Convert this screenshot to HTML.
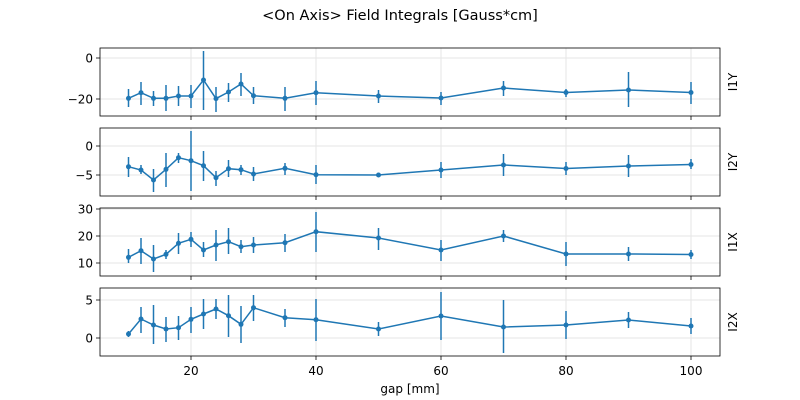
<!DOCTYPE html>
<html><head><meta charset="utf-8"><style>body{margin:0;background:#fff}svg{display:block}text{font-family:"DejaVu Sans","Liberation Sans",sans-serif;fill:#000}</style></head>
<body><svg id="s" width="800" height="400" xmlns="http://www.w3.org/2000/svg"></svg>
<script>
const s=document.getElementById('s');let h='';
h+='<text x="400" y="20" font-size="14.5" text-anchor="middle">&lt;On Axis&gt; Field Integrals [Gauss*cm]</text>';
const xs=[128.5,141,153.5,166,178.5,191,203.5,216,228.5,241,253.5,285,316,378.5,441,503.5,566,628.5,691];
const xt=[[20,191],[40,316],[60,441],[80,566],[100,691]];
const P=[
{y0:48,y1:116,lab:'I1Y',yt:[['0',58],['\u221220',99]],d:[[98.3,89,107],[92.7,82,105],[98.3,91,106],[98.3,85,111],[96,86,106],[96,85,108],[80,51,110],[98.6,87,112],[92,83,102],[84,73,96],[95.7,87,104],[98.3,87,111],[92.7,81,105],[96,90,103],[98,92,105],[88,81,96],[92.5,89,97],[90,72,107],[92.5,82,104]]},
{y0:128,y1:196,lab:'I2Y',yt:[['0',146],['\u22125',175]],d:[[166.7,157,177],[170,165,174],[180,169,192],[169.3,153,187],[157.7,153,163],[160.7,131,191],[165.7,151,181],[177.7,171,186],[168.7,160,177],[169.7,165,175],[174,167,181],[168.3,163,175],[174.7,165,184],[175,174,176],[170,162,178],[165,154,176],[168.5,162,175],[166,155,177],[164.5,159,169]]},
{y0:208,y1:276,lab:'I1X',yt:[['30',209],['20',236],['10',263]],d:[[257.3,249,263],[250.7,238,264],[259,245,272],[254.3,250,259],[243.3,233,254],[239.3,232,247],[250,242,257],[245,230,261],[241.7,228,254],[246.7,240,253],[245,237,253],[242.7,234,252],[231.7,212,252],[238,228,250],[250,240,261],[236,230,242],[254,242,266],[254,247,261],[254.5,250,259]]},
{y0:288,y1:356,lab:'I2X',yt:[['5',300],['0',338]],d:[[334,331,337],[319,307,333],[325,305,344],[329,317,342],[327.7,316,340],[319.3,307,333],[314,299,329],[309,299,319],[315.7,295,337],[324.3,306,343],[307.7,295,321],[317.7,309,327],[319.7,299,341],[329,322,336],[316,292,340],[327,300,353],[325,311,339],[320,312,328],[326,318,334]]}];
P.forEach((p,i)=>{
 xt.forEach(t=>{h+=`<line x1="${t[1]}" x2="${t[1]}" y1="${p.y0}" y2="${p.y1}" stroke="#e6e6e6" stroke-width="1"/>`;
  h+=`<line x1="${t[1]}" x2="${t[1]}" y1="${p.y1}" y2="${p.y1+4}" stroke="#000" stroke-width="0.8"/>`;});
 p.yt.forEach(t=>{h+=`<line x1="100" x2="720" y1="${t[1]}" y2="${t[1]}" stroke="#e6e6e6"/>`;
  h+=`<line x1="96" x2="100" y1="${t[1]}" y2="${t[1]}" stroke="#000" stroke-width="0.8"/>`;
  h+=`<text x="93" y="${t[1]+4.5}" font-size="12" text-anchor="end">${t[0]}</text>`;});
 p.d.forEach((d,j)=>{h+=`<line x1="${xs[j]}" x2="${xs[j]}" y1="${d[1]}" y2="${d[2]}" stroke="#1f77b4" stroke-width="1.5"/>`;});
 h+=`<polyline fill="none" stroke="#1f77b4" stroke-width="1.5" points="${p.d.map((d,j)=>xs[j]+','+d[0]).join(' ')}"/>`;
 p.d.forEach((d,j)=>{h+=`<circle cx="${xs[j]}" cy="${d[0]}" r="2.5" fill="#1f77b4"/>`;});
 h+=`<rect x="100" y="${p.y0}" width="620" height="${p.y1-p.y0}" fill="none" stroke="#000" stroke-width="0.8"/>`;
 const cy=(p.y0+p.y1)/2;
 h+=`<text x="0" y="0" font-size="12" text-anchor="middle" transform="translate(737,${cy}) rotate(-90)">${p.lab}</text>`;
});
xt.forEach(t=>{h+=`<text x="${t[1]}" y="375" font-size="12" text-anchor="middle">${t[0]}</text>`;});
h+='<text x="410" y="393" font-size="12" text-anchor="middle">gap [mm]</text>';
s.innerHTML=h;
</script></body></html>
